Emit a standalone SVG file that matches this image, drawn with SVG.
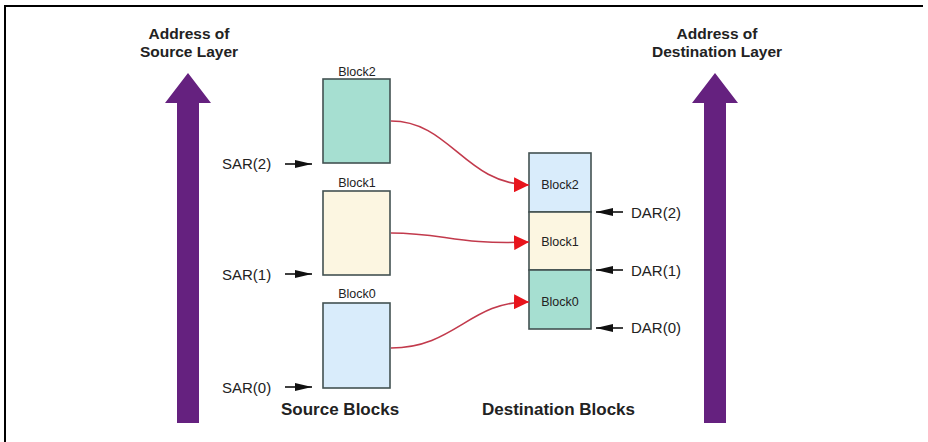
<svg xmlns="http://www.w3.org/2000/svg" width="928" height="442" viewBox="0 0 928 442">
<defs>
<style>
.t{font-family:"Liberation Sans",Arial,sans-serif;fill:#222}
.h{font-size:15.5px;font-weight:bold;text-anchor:middle}
.cap{font-size:17px;font-weight:bold}
.lbl{font-size:12.5px;text-anchor:middle}
.reg{font-size:15px}
.blk{stroke:#435252;stroke-width:1.6}
.teal{fill:#a6dfd1}
.cream{fill:#fcf6e1}
.blue{fill:#d9ecfb}
.purple{fill:#65217f}
.ptr{stroke:#111;stroke-width:1.6;fill:none}
.cur{stroke:#c23a4c;stroke-width:1.6;fill:none}
</style>
<marker id="ptrhead" viewBox="0 0 17 8" refX="17" refY="4" markerWidth="17" markerHeight="8" markerUnits="userSpaceOnUse" orient="auto"><path d="M0,0 L17,4 L0,8 z" fill="#111"/></marker>
<marker id="redhead" viewBox="0 0 10 10" refX="10" refY="5" markerWidth="15" markerHeight="15" markerUnits="userSpaceOnUse" orient="auto"><path d="M0,0 L10,5 L0,10 z" fill="#e8141c"/></marker>
</defs>
<rect width="928" height="442" fill="#fff"/>
<path d="M5,442 V6 H923" fill="none" stroke="#000" stroke-width="2"/>

<g id="src-axis">
<path class="purple" d="M177,423 V103 H165 L188,73 L211,103 H199 V423 z"/>
<text class="t h" x="189" y="39">Address of</text>
<text class="t h" x="189" y="57">Source Layer</text>
</g>
<g id="dst-axis">
<path class="purple" d="M704,423 V103 H692 L715,73 L738,103 H726 V423 z"/>
<text class="t h" x="717" y="39">Address of</text>
<text class="t h" x="717" y="57">Destination Layer</text>
</g>

<g id="src-block2">
<rect class="blk teal" x="323" y="79" width="67" height="84"/>
<text class="t lbl" x="357" y="76">Block2</text>
</g>
<g id="src-block1">
<rect class="blk cream" x="323" y="191" width="67" height="84"/>
<text class="t lbl" x="357" y="187">Block1</text>
</g>
<g id="src-block0">
<rect class="blk blue" x="323" y="303" width="67" height="85"/>
<text class="t lbl" x="357" y="298">Block0</text>
</g>
<g id="src-caption"><text class="t cap" x="281" y="415">Source Blocks</text></g>

<g id="dst-block2">
<rect class="blk blue" x="529" y="153" width="62" height="59"/>
<text class="t lbl" x="560" y="189">Block2</text>
</g>
<g id="dst-block1">
<rect class="blk cream" x="529" y="212" width="62" height="58"/>
<text class="t lbl" x="560" y="246">Block1</text>
</g>
<g id="dst-block0">
<rect class="blk teal" x="529" y="270" width="62" height="59"/>
<text class="t lbl" x="560" y="306">Block0</text>
</g>
<g id="dst-caption"><text class="t cap" x="482" y="415">Destination Blocks</text></g>

<g id="pointer-labels">
<text class="t reg" x="222" y="169">SAR(2)</text>
<text class="t reg" x="222" y="280">SAR(1)</text>
<text class="t reg" x="222" y="393">SAR(0)</text>
<text class="t reg" x="631" y="218">DAR(2)</text>
<text class="t reg" x="631" y="276">DAR(1)</text>
<text class="t reg" x="631" y="333">DAR(0)</text>
</g>

<g id="connectors">
<path class="ptr" d="M285,164 H312" marker-end="url(#ptrhead)"/>
<path class="ptr" d="M285,274 H312" marker-end="url(#ptrhead)"/>
<path class="ptr" d="M285,387 H312" marker-end="url(#ptrhead)"/>
<path class="ptr" d="M623,212 H596" marker-end="url(#ptrhead)"/>
<path class="ptr" d="M623,270 H596" marker-end="url(#ptrhead)"/>
<path class="ptr" d="M623,328 H596" marker-end="url(#ptrhead)"/>
<path class="cur" d="M391,121 C450,121 465,184 529,185" marker-end="url(#redhead)"/>
<path class="cur" d="M391,233 C445,233 455,245 529,242" marker-end="url(#redhead)"/>
<path class="cur" d="M391,348 C455,348 470,301 529,302" marker-end="url(#redhead)"/>
</g>
</svg>
